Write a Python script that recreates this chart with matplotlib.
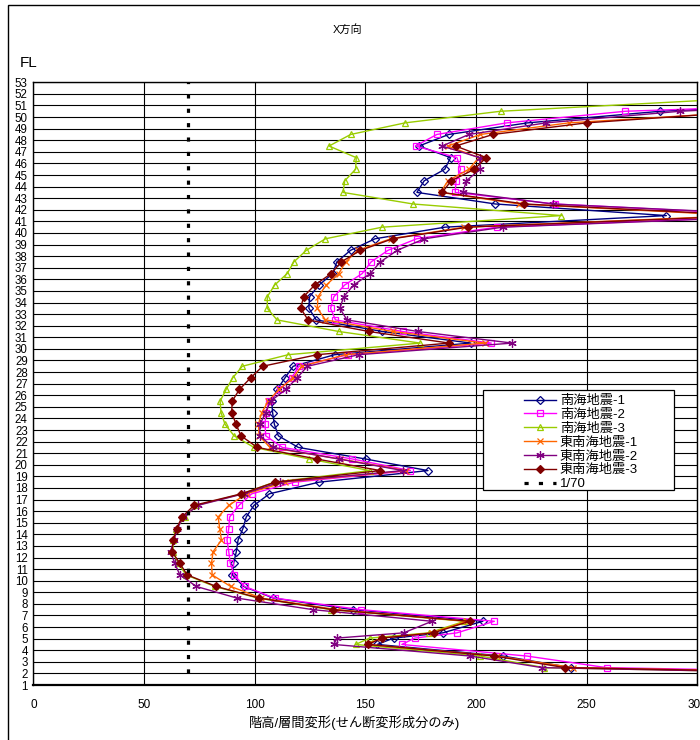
import matplotlib
matplotlib.use("Agg")
import matplotlib.pyplot as plt
from matplotlib.patches import Rectangle

plt.rcParams['font.family'] = ['Liberation Sans', 'Noto Sans CJK JP', 'DejaVu Sans']

# story levels (one extra point between 4.5 and 5.5)
levels = [1.5, 2.5, 3.5, 4.5, 5.05, 5.5, 6.5, 7.5, 8.5, 9.5,
          10.5, 11.5, 12.5, 13.5, 14.5, 15.5, 16.5, 17.5, 18.5, 19.5,
          20.5, 21.5, 22.5, 23.5, 24.5, 25.5, 26.5, 27.5, 28.5, 29.5,
          30.5, 31.5, 32.5, 33.5, 34.5, 35.5, 36.5, 37.5, 38.5, 39.5,
          40.5, 41.5, 42.5, 43.5, 44.5, 45.5, 46.5, 47.5, 48.5, 49.5,
          50.5, 51.5]

nankai_1 = [520, 243, 212.1, 155.4, 162.8, 185.0, 203.1, 144.4, 108.5, 95.0,
            89.9, 90.5, 91.7, 92.5, 94.7, 96.2, 99.7, 106.7, 129.1, 178.3,
            150.1, 119.7, 110.7, 108.9, 108.1, 107.7, 110.2, 113.7, 117.4, 136.2,
            197.7, 157.7, 127.8, 124.5, 124.8, 129.0, 135.3, 137.1, 143.3, 154.4,
            186.0, 286.0, 208.8, 173.3, 176.6, 185.9, 188.5, 174.2, 187.7, 223.4,
            283.3, 390]
nankai_2 = [540, 259.0, 222.9, 166.5, 172.3, 191.4, 208.3, 148.2, 109.0, 95.5,
            90.7, 89.0, 88.3, 87.5, 88.3, 88.7, 92.9, 98.7, 118.0, 170.4,
            144.2, 112.5, 105.0, 104.7, 105.1, 106.6, 111.4, 116.7, 120.0, 142.3,
            206.9, 166.9, 136.5, 134.3, 135.8, 140.6, 148.6, 152.6, 160.2, 173.2,
            209.3, 340, 235.6, 190.6, 191.0, 193.0, 191.4, 172.7, 182.3, 213.9,
            267.5, 420]
nankai_3 = [500, 230.9, 202.0, 145.6, 152.0, 178.7, 194.8, 134.5, 101.5, 82.0,
            69.0, 65.5, 63.0, 63.2, 64.5, 68.4, 73.7, 94.5, 108.8, 152.0,
            124.7, 99.7, 90.7, 86.6, 84.8, 84.4, 87.1, 90.1, 94.4, 115.2,
            174.8, 138.0, 110.1, 105.7, 105.7, 109.0, 114.7, 117.7, 123.3, 132.0,
            157.6, 238.6, 171.6, 139.9, 140.7, 145.6, 145.9, 133.6, 143.4, 168.0,
            211.1, 309]
tonankai_1 = [520, 244.0, 209.5, 151.0, 157.0, 180.0, 196.0, 137.2, 103.0, 89.2,
              80.8, 80.5, 81.2, 85.0, 84.2, 83.5, 88.3, 96.4, 113.7, 168.6,
              138.5, 106.9, 102.0, 101.7, 103.2, 106.2, 111.0, 117.4, 121.2, 141.1,
              204.0, 162.4, 132.0, 128.3, 128.6, 132.3, 138.0, 141.1, 146.5, 161.5,
              194.7, 320, 219.6, 184.0, 187.3, 196.8, 201.3, 187.3, 202.0, 242.0,
              328, 400]
tonankai_2 = [500, 229.8, 197.4, 135.7, 137.2, 167.3, 180.1, 126.4, 92.0, 73.7,
              66.2, 63.9, 62.0, 63.5, 65.1, 67.7, 74.4, 95.0, 111.4, 167.1,
              138.0, 108.4, 102.3, 102.4, 105.0, 107.2, 114.1, 119.2, 123.8, 147.1,
              216.4, 173.7, 141.7, 138.5, 140.2, 144.7, 152.2, 156.8, 164.4, 176.7,
              212.0, 345, 234.7, 194.1, 195.6, 202.0, 201.6, 184.7, 196.8, 231.7,
              292.2, 400]
tonankai_3 = [515, 240.2, 208.3, 151.2, 157.5, 180.8, 197.1, 135.4, 102.0, 82.7,
              69.5, 66.2, 62.7, 63.2, 64.7, 67.2, 72.6, 94.0, 109.2, 156.8,
              128.0, 101.2, 93.8, 91.6, 89.6, 89.9, 93.1, 98.2, 103.6, 128.3,
              187.9, 151.6, 124.1, 120.8, 122.1, 127.1, 134.6, 139.1, 147.8, 162.3,
              196.2, 325, 221.9, 184.7, 188.8, 199.3, 204.6, 190.8, 207.7, 250.0,
              325, 400]

limit_x = [70, 70]
limit_y = [2, 53]

fig = plt.figure(figsize=(7, 7.4), dpi=100)
ax = fig.add_axes([0.0476, 0.0743, 0.9486, 0.8145])

series = [
    (nankai_1, "南海地震-1", "#000080", "D", "none", 3.6),
    (nankai_2, "南海地震-2", "#FF00FF", "s", "none", 3.8),
    (nankai_3, "南海地震-3", "#99CC00", "^", "none", 4.2),
    (tonankai_1, "東南海地震-1", "#FF6600", "x", "#FF6600", 4.5),
    (tonankai_2, "東南海地震-2", "#800080", (6, 2, 0), "#800080", 6),
    (tonankai_3, "東南海地震-3", "#800000", "D", "#800000", 3.6),
]
for vals, label, color, marker, face, ms in series:
    ax.plot(vals, levels, color=color, lw=1.0, marker=marker, ms=ms,
            mfc=face, mec=color, mew=0.9, label=label, zorder=3)

ax.plot(limit_x, limit_y, color="black", lw=2.3, linestyle=(0, (1.3, 3.2)),
        dash_capstyle="butt", label="1/70", zorder=4)

ax.set_xlim(0, 300)
ax.set_ylim(1, 53)
ax.set_xticks(range(0, 301, 50))
ax.set_yticks(range(1, 54))
ax.tick_params(axis="both", length=0, labelsize=8.5)
ax.tick_params(axis="x", pad=10)
ax.tick_params(axis="y", pad=4, labelsize=8.3)
ax.grid(True, color="black", lw=0.8, zorder=1)
ax.set_axisbelow(True)
for sp in ax.spines.values():
    sp.set_linewidth(1.0)
ax.spines["bottom"].set_linewidth(1.6)

fig.text(355 / 700, 1 - 723 / 740, "階高/層間変形(せん断変形成分のみ)", fontsize=9.5,
         ha="center", va="center")
fig.text(348 / 700, 1 - 29 / 740, "X方向", fontsize=8, ha="center", va="center")
fig.text(20 / 700, 1 - 63 / 740, "FL", fontsize=11, ha="left", va="center")

# outer chart border
fig.patches.append(Rectangle((8 / 700, -0.1), 1.2, 1.1 - 5.5 / 740, transform=fig.transFigure,
                             fill=False, edgecolor="black", lw=1.0))

# legend box drawn separately for its wide padding
ax.add_patch(Rectangle((482.7 / 700, 1 - 490 / 740), 191.3 / 700, 100 / 740,
                       transform=fig.transFigure, facecolor="white", edgecolor="black",
                       lw=0.9, zorder=5, clip_on=False))
leg = ax.legend(loc="upper left", bbox_to_anchor=(524 / 700, 1 - 395 / 740),
                bbox_transform=fig.transFigure, fontsize=9.5, frameon=False,
                borderaxespad=0, borderpad=0, handlelength=2.42,
                labelspacing=0.12, handletextpad=0.3)
leg.set_zorder(6)

fig.savefig("out.png", dpi=100)
